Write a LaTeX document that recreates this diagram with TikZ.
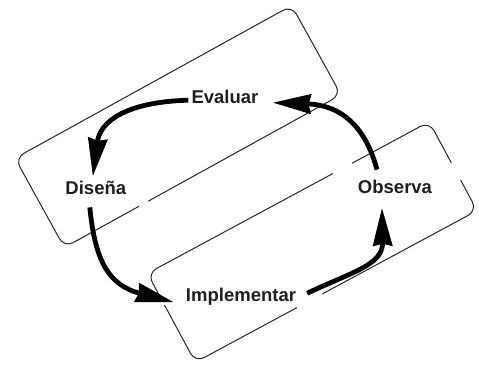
\documentclass[tikz,border=0pt]{standalone}
\usepackage{fontspec}
\setmainfont{Liberation Sans}
\usetikzlibrary{arrows.meta,calc}
\begin{document}
\begin{tikzpicture}[x=1pt,y=-1pt,
  panel/.style={draw=black!85, line width=1pt, rounded corners=10pt, inner sep=0pt, outer sep=0pt},
  lbl/.style={font=\fontsize{18.5}{20}\selectfont\bfseries, text=black!88, inner sep=0pt, anchor=base},
  cyc/.style={line width=4.8pt, black, -{Stealth[length=38pt,width=19pt,inset=2pt]}},
  gapline/.style={white, line width=4pt}]
\useasboundingbox (0,0) rectangle (479,366);
% rotated boxes
\node[panel, minimum width=316pt, minimum height=102pt, rotate=28.9] (boxA) at (178,126.5) {};
\node[panel, minimum width=320pt, minimum height=101pt, rotate=28.3] (boxB) at (312.25,242) {};
% gaps in box outlines
\draw[gapline] ($(boxA.south west)!0.27!(boxA.south east)$) -- ($(boxA.south west)!0.303!(boxA.south east)$);
\draw[gapline] ($(boxB.north west)!0.658!(boxB.north east)$) -- ($(boxB.north west)!0.726!(boxB.north east)$);
\draw[gapline] ($(boxB.north east)!0.465!(boxB.south east)$) -- ($(boxB.north east)!0.656!(boxB.south east)$);
\draw[gapline] ($(boxB.south west)!0.361!(boxB.south east)$) -- ($(boxB.south west)!0.45!(boxB.south east)$);
\draw[gapline] ($(boxB.north west)!0.25!(boxB.south west)$) -- ($(boxB.north west)!0.355!(boxB.south west)$);
% labels
\node[lbl] (evaluar) at (225,103.3) {Evaluar};
\node[lbl] (disena) at (95.8,195) {Diseña};
\node[lbl] (observa) at (395,193.3) {Observa};
\node[lbl] (implementar) at (241,301) {Implementar};
% cycle arrows
\draw[cyc] ([shift={(-3,3.5)}]evaluar.west) .. controls (125,102) and (100,122) .. ([shift={(-3,-5)}]disena.north);
\draw[cyc] ([shift={(-6,12)}]disena.south) .. controls (95,260) and (108,285) .. ([shift={(-12,6)}]implementar.west);
\draw[cyc] ([shift={(11,-3)}]implementar.east) .. controls (352,272) and (383,265) .. ([shift={(-13,14)}]observa.south);
\draw[cyc] ([shift={(-18,-10)}]observa.north) .. controls (365,125) and (340,105) .. ([shift={(14,6)}]evaluar.east);
\end{tikzpicture}
\end{document}
